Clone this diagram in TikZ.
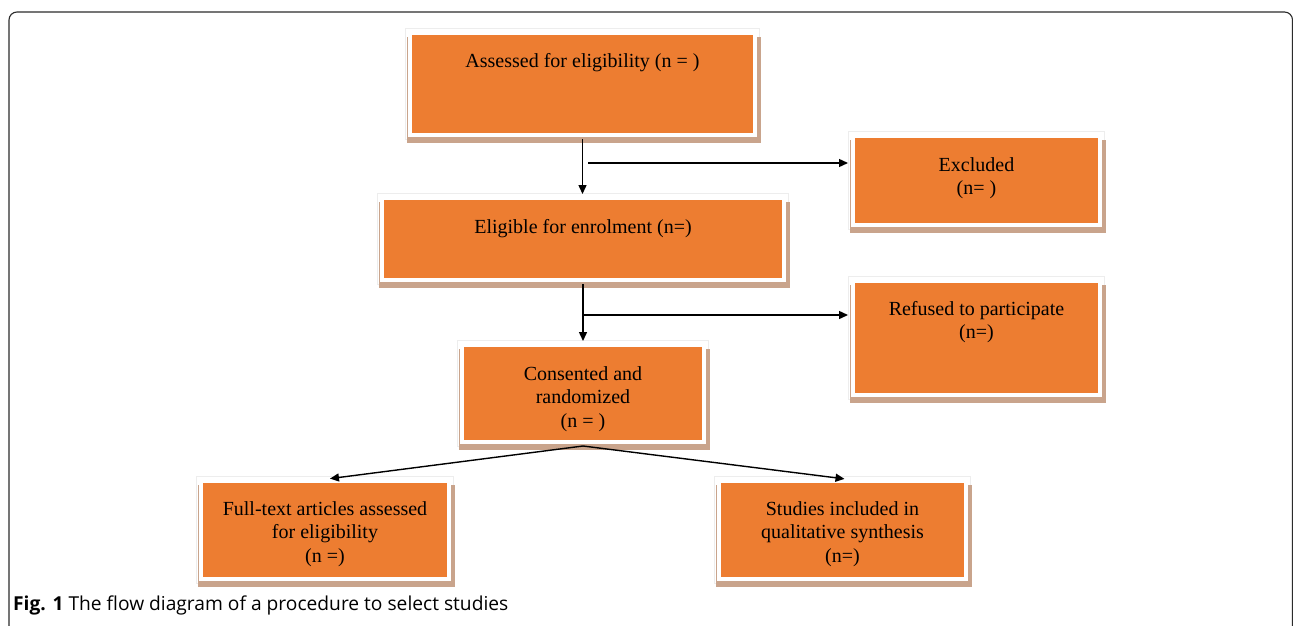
\documentclass[tikz,border=0pt]{standalone}
\usepackage{fontspec}
\setmainfont{Liberation Serif}
\newfontfamily\capfont{Open Sans}
\usetikzlibrary{arrows.meta,backgrounds,calc}
\definecolor{boxorange}{HTML}{ED7D31}
\definecolor{boxshadow}{HTML}{C9A48C}
\definecolor{framegray}{HTML}{2B2B2B}
\tikzset{
  box/.style={rectangle, fill=boxorange, draw=white, line width=4pt, inner sep=0pt,
    font=\fontsize{20}{23.5}\selectfont},
  conn/.style={line width=1.4pt, draw=black, -{Triangle[length=9pt,width=8pt]}},
  shadowbox/.style={fill=boxshadow},
  edgebox/.style={draw=black!7, line width=0.8pt},
}
\newcommand{\txt}[1]{\begin{tabular}[t]{@{}c@{}}#1\end{tabular}}
\newcommand{\boxback}[1]{%
  \draw[edgebox] ($(#1.north west)+(-2.3,-2.3)$) rectangle ($(#1.south east)+(2.3,2.3)$);
  \fill[shadowbox] ($(#1.north west)+(-1.5,6)$) rectangle ($(#1.south east)+(3.5,6)$);}
\begin{document}
\begin{tikzpicture}[x=1pt,y=-1pt]
\useasboundingbox (0,0) rectangle (1293,626);
\draw[framegray, line width=1.1pt, rounded corners=8pt] (9,626) -- (9,12) -- (1292.5,12) -- (1292.5,626);

\node[box, minimum width=345pt, text height=34pt, text depth=68pt] (assess) at (582.5,84)
  {\txt{Assessed for eligibility (n = )}};
\node[box, minimum width=247pt, text height=35pt, text depth=54pt] (excl) at (976.5,180.5)
  {\txt{Excluded\\(n= )}};
\node[box, minimum width=402pt, text height=35pt, text depth=47pt] (elig) at (583,239)
  {\txt{Eligible for enrolment (n=)}};
\node[box, minimum width=247pt, text height=34pt, text depth=80pt] (refused) at (976.5,338)
  {\txt{Refused to participate\\(n=)}};
\node[box, minimum width=242pt, text height=35pt, text depth=62pt] (consent) at (583,393.5)
  {\txt{Consented and\\randomized\\(n = )}};
\node[box, minimum width=248pt, text height=34pt, text depth=64pt] (fulltext) at (325,530)
  {\txt{Full-text articles assessed\\for eligibility\\(n =)}};
\node[box, minimum width=247pt, text height=34pt, text depth=64pt] (studies) at (842.5,530)
  {\txt{Studies included in\\qualitative synthesis\\(n=)}};

\begin{scope}[on background layer]
  \boxback{assess}\boxback{excl}\boxback{elig}\boxback{refused}
  \boxback{consent}\boxback{fulltext}\boxback{studies}
\end{scope}

\coordinate (split1) at (588,163);
\coordinate (split2) at (583,315);
\coordinate (fork) at (583,446);

\draw[conn, shorten <=2pt, shorten >=2pt] (assess.south) -- (assess.south |- elig.north);
\draw[conn, shorten >=3pt] (split1) -- (split1 -| excl.west);
\draw[conn, shorten <=2pt, shorten >=2pt] (elig.south) -- (elig.south |- consent.north);
\draw[conn, shorten >=3pt] (split2) -- (split2 -| refused.west);
\draw[conn, shorten >=3pt] (fork) -- ($(fulltext.north)+(2,0)$);
\draw[conn, shorten >=1pt] (fork) -- ($(studies.north)+(3,0)$);

\node[anchor=base west, inner sep=0pt, font=\capfont\fontsize{19.2}{22}\selectfont] (caption) at (13,610)
  {\textbf{Fig. 1} The flow diagram of a procedure to select studies};
\end{tikzpicture}
\end{document}
